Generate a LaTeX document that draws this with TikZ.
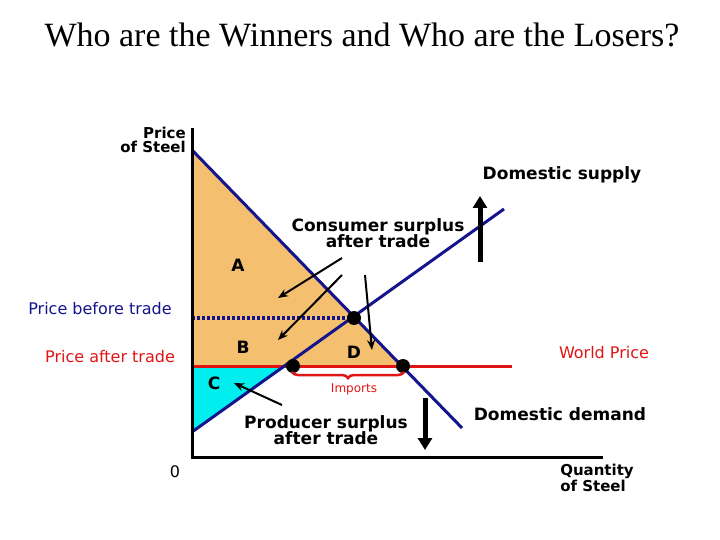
\documentclass[tikz,border=0pt]{standalone}
\usepackage{fontspec}
\setmainfont{DejaVu Sans}
\newfontfamily\titlefont{Liberation Serif}
\usetikzlibrary{decorations.pathreplacing,arrows.meta}
\definecolor{navy}{RGB}{20,20,140}
\definecolor{orng}{RGB}{244,192,112}
\definecolor{cyn}{RGB}{0,238,238}
\definecolor{wred}{RGB}{225,20,20}
\begin{document}
\begin{tikzpicture}[x=1pt,y=-1pt,
  lbl/.style={font=\fontsize{17}{18}\selectfont\bfseries,align=center},
  plbl/.style={font=\fontsize{16}{17}\selectfont,align=right},
  curve/.style={navy,line width=3pt},
  thin/.style={-{Stealth[length=10pt,width=8pt]},line width=2pt},
  thick/.style={-{Triangle[length=12pt,width=14pt]},line width=5pt},
  dot/.style={circle,fill=black,inner sep=0pt,minimum size=14pt}]
\useasboundingbox (0,0) rectangle (720,540);
\node[font=\titlefont\fontsize{34}{36}\selectfont] (title) at (362,35) {Who are the Winners and Who are the Losers?};
\fill[orng] (192,150) -- (403,366) -- (192,366) -- cycle;
\fill[cyn] (192,366) -- (287,366) -- (192,432) -- cycle;
\draw[navy,line width=3.5pt,dash pattern=on 3pt off 2pt] (192,318) -- (354,318);
\draw[wred,line width=3pt] (192,366) -- (512,366);
\draw[curve] (192,150) -- (462,428);
\draw[curve] (192,432) -- (504,209);
\draw[line width=3pt] (192,128) -- (192,457) -- (603,457);
\node[dot] (e1) at (354,318) {};
\node[dot] (e2) at (293,366) {};
\node[dot] (e3) at (403,366) {};
\coordinate (b1) at (292,372); \coordinate (b2) at (404,372);
\draw[wred,line width=2.5pt,decorate,decoration={brace,mirror,amplitude=6pt}] (b1) -- (b2);
\node[font=\fontsize{12}{13}\selectfont,text=wred] (imp) at (354,389) {Imports};
\node[lbl] (A) at (238,265) {A};
\node[lbl] (B) at (243,347) {B};
\node[lbl] (C) at (214,383) {C};
\node[lbl] (D) at (354,352) {D};
\node[lbl] (cs) at (378,233) {Consumer surplus\\[-2pt]after trade};
\node[lbl] (ps) at (326,430) {Producer surplus\\[-2pt]after trade};
\coordinate (c1) at (342,258); \coordinate (t1) at (278,298);
\coordinate (c2) at (342,275); \coordinate (t2) at (278,340);
\coordinate (c3) at (365,275); \coordinate (t3) at (372,350);
\coordinate (p1) at (282,405); \coordinate (t4) at (234,383);
\draw[thin] (c1) -- (t1);
\draw[thin] (c2) -- (t2);
\draw[thin] (c3) -- (t3);
\draw[thin] (p1) -- (t4);
\coordinate (u1) at (480,262); \coordinate (u2) at (480,196);
\coordinate (d1) at (425,398); \coordinate (d2) at (425,450);
\draw[thick] (u1) -- (u2);
\draw[thick] (d1) -- (d2);
\node[lbl] (ds) at (562,175) {Domestic supply};
\node[lbl] (dd) at (560,414) {Domestic demand};
\node[font=\fontsize{15}{14}\selectfont\bfseries,align=left] (qs) at (597,478) {Quantity\\of Steel};
\node[font=\fontsize{15}{14}\selectfont\bfseries,align=right,anchor=east,inner sep=1pt] (ps2) at (187,140) {Price\\of Steel};
\node[lbl,font=\fontsize{16}{17}\selectfont] (zero) at (175,472) {0};
\node[plbl,text=navy] (pbt) at (100,309) {Price before trade};
\node[plbl,text=wred] (pat) at (110,357) {Price after trade};
\node[plbl,text=wred] (wp) at (604,353) {World Price};
\end{tikzpicture}
\end{document}
